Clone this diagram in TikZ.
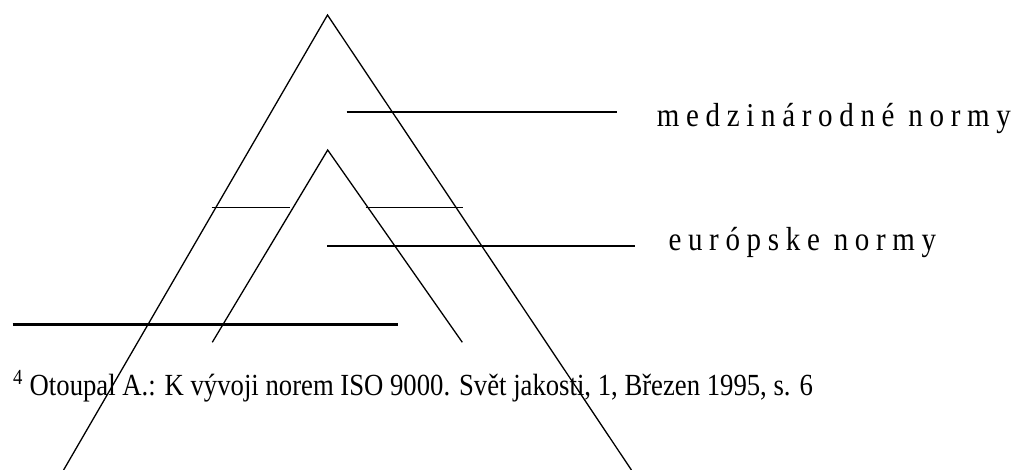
\documentclass[tikz,border=0pt]{standalone}
\usepackage{fontspec}
\setmainfont{Liberation Serif}
\newfontfamily\widefont[LetterSpace=23]{Liberation Serif}
\usetikzlibrary{positioning}

\begin{document}
\begin{tikzpicture}[x=1pt, y=-1pt,
    side/.style={line width=1.3pt},
    bar/.style={line width=1.4pt},
    levelname/.style={anchor=base west, inner sep=0pt, font=\widefont\fontsize{29}{32}\selectfont},
    note/.style={anchor=base west, inner sep=0pt, font=\fontsize{26.7}{30}\selectfont}]
  \useasboundingbox (0,0) rectangle (1028,470);
  % outer and inner pyramid
  \coordinate (top) at (327.5,15);
  \coordinate (bl) at (63.6,470);
  \coordinate (br) at (631.4,470);
  \coordinate (itop) at (327.7,150);
  \coordinate (ibl) at (212.3,342.3);
  \coordinate (ibr) at (462.3,342.3);
  \draw[side] (bl) -- (top) -- (br);
  \draw[side] (ibl) -- (itop) -- (ibr);
  % level lines
  \coordinate (m1) at (346.7,112);   \coordinate (m2) at (616.7,112);
  \coordinate (s1) at (211.7,207.7); \coordinate (s2) at (290,207.7);
  \coordinate (s3) at (365.7,207.7); \coordinate (s4) at (462.7,207.7);
  \coordinate (e1) at (327,246);     \coordinate (e2) at (635,246);
  \coordinate (f1) at (12.7,324.5);  \coordinate (f2) at (397.7,324.5);
  \draw[bar] (m1) -- (m2);
  \draw[bar] (s1) -- (s2);
  \draw[bar] (s3) -- (s4);
  \draw[bar] (e1) -- (e2);
  \draw[line width=2.7pt] (f1) -- (f2);
  % texts
  \node[levelname] (intl) at (656.7,126.7) {\scalebox{1}[1.15]{medzinárodné normy}};
  \node[levelname] (eur) at (668.3,250.5) {\scalebox{1}[1.15]{európske normy}};
  \node[note] (ref) at (13,395) {\scalebox{1}[1.15]{\textsuperscript{4} Otoupal A.: K vývoji norem ISO 9000. Svět jakosti, 1, Březen 1995, s. 6}};
\end{tikzpicture}
\end{document}
